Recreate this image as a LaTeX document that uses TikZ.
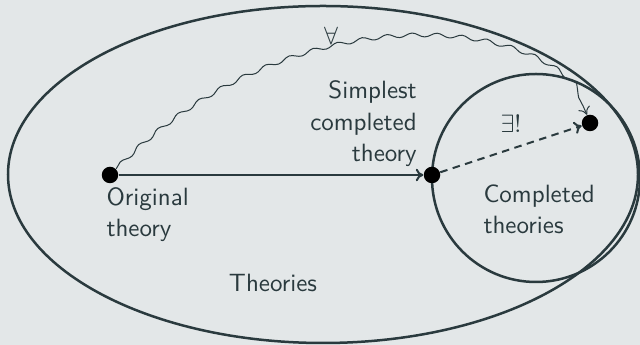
\documentclass[tikz,border=0pt]{standalone}
\usepackage{amsmath}
\usepackage{amssymb}
\usetikzlibrary{positioning,arrows.meta,decorations.pathmorphing}
\definecolor{pagebg}{HTML}{E3E7E8}
\definecolor{inkslate}{HTML}{2A3A3E}
\tikzset{
  dot/.style={circle, fill=black, inner sep=0pt, minimum size=6.6pt},
  lbl/.style={font=\fontsize{10}{12.5}\selectfont\sffamily, text=inkslate, inner sep=0pt},
  setline/.style={draw=inkslate, line width=1pt},
  flow/.style={-{To[length=3pt,width=5pt]}, draw=inkslate, line width=0.8pt},
  dashflow/.style={flow, dash pattern=on 3pt off 2.2pt},
  wavy/.style={flow, line width=0.4pt, decorate,
    decoration={snake, amplitude=0.8pt, segment length=10pt, post length=4pt}},
}

\begin{document}
\begin{tikzpicture}[x=0.4pt, y=0.4pt]
\useasboundingbox[fill=pagebg] (0,0) rectangle (640,345);

% sets
\draw[setline] (323,170.5) ellipse [x radius=315, y radius=168.5];
\draw[setline] (536,167) circle [radius=104];

% theories
\node[dot] (orig) at (110,170) {};
\node[dot] (simp) at (432,170) {};
\node[dot] (unique) at (590,222) {};

% labels
\node[lbl, align=left, anchor=north west] (origlbl)
  at ([xshift=-1.6pt, yshift=-1.2pt]orig.south) {Original\\theory};
\node[lbl, align=right, anchor=south east] (simplbl)
  at ([xshift=-2.4pt, yshift=3.2pt]simp.west) {Simplest\\completed\\theory};
\node[lbl, align=left, anchor=north west] (compllbl) at (483,160.5) {Completed\\theories};
\node[lbl] (theorieslbl) at (273,62) {Theories};

% edges
\draw[flow] (orig) -- (simp);
\draw[dashflow] (simp) -- node[lbl, pos=0.5, above=6pt] {$\exists!$} (unique);
\draw[wavy] (orig) .. controls +(45:260) and +(110:110) ..
  node[lbl, pos=0.37, above=1.5pt] {$\forall$} (unique);

\end{tikzpicture}
\end{document}
